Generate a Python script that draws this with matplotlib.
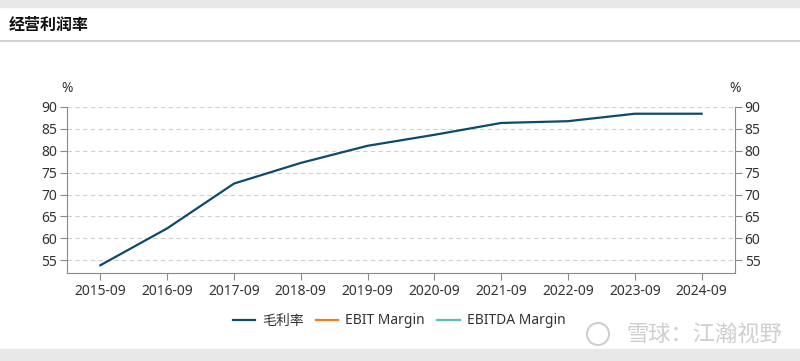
import matplotlib
matplotlib.use("Agg")
import matplotlib.pyplot as plt
from matplotlib.lines import Line2D
from matplotlib.patches import Rectangle, Ellipse

plt.rcParams['font.family'] = ['Noto Sans', 'Noto Sans CJK SC', 'DejaVu Sans']

# data
periods = ['2015-09', '2016-09', '2017-09', '2018-09', '2019-09',
           '2020-09', '2021-09', '2022-09', '2023-09', '2024-09']
gross_margin = [53.9, 62.3, 72.5, 77.2, 81.1, 83.6, 86.3, 86.7, 88.4, 88.4]
ebit_margin = []
ebitda_margin = []
y_ticks = [55, 60, 65, 70, 75, 80, 85, 90]

c_gross = '#0e4a6b'
c_ebit = '#ee7d1f'
c_ebitda = '#5cbdb6'
c_text = '#333333'
c_axis = '#8a8a8a'
fs = 10

fig = plt.figure(figsize=(8, 3.61), dpi=100)

# header / footer bands
fig.patches.append(Rectangle((0, 1 - 7/361), 1, 7/361, transform=fig.transFigure,
                             color='#e8e8e8', zorder=0))
fig.patches.append(Rectangle((0, 0), 1, 12/361, transform=fig.transFigure,
                             color='#e8e8e8', zorder=0))
fig.add_artist(Line2D([0, 1], [1 - 41/361, 1 - 41/361], transform=fig.transFigure,
                      color='#cccccc', lw=1.2))
fig.text(9/800, 1 - 25/361, '经营利润率', fontsize=11.5, fontweight='bold',
         color='#111111', va='center', ha='left', family='Noto Sans CJK SC')

ax = fig.add_axes([67/800, 1 - 272.7/361, (735 - 67)/800, (272.7 - 106.7)/361])
x = list(range(len(periods)))
ax.plot(x, gross_margin, color=c_gross, lw=1.6, label='毛利率')
ax.plot(ebit_margin, ebit_margin, color=c_ebit, lw=1.6, label='EBIT Margin')
ax.plot(ebitda_margin, ebitda_margin, color=c_ebitda, lw=1.6, label='EBITDA Margin')

ax.set_xlim(-0.5, len(periods) - 0.5)
ax.set_ylim(52.2, 90)
ax.set_xticks(x)
ax.set_xticklabels(periods)
ax.set_yticks(y_ticks)
ax.grid(axis='y', color='#d0d0d0', ls=(0, (4, 3)), lw=0.8)
ax.set_axisbelow(True)

for s in ['top', 'right']:
    ax.spines[s].set_visible(False)
for s in ['left', 'bottom']:
    ax.spines[s].set_color(c_axis)
ax.tick_params(axis='both', colors=c_axis, labelcolor=c_text, labelsize=fs,
               length=5, width=0.8, pad=2)
ax.tick_params(axis='x', pad=3)

ax2 = ax.twinx()
ax2.set_ylim(ax.get_ylim())
ax2.set_yticks(y_ticks)
for s in ['top', 'left', 'bottom']:
    ax2.spines[s].set_visible(False)
ax2.spines['right'].set_color(c_axis)
ax2.tick_params(axis='y', colors=c_axis, labelcolor=c_text, labelsize=fs,
                length=5, width=0.8, pad=2)

fig.text(67/800, 1 - 88/361, '%', fontsize=fs, color=c_text, ha='center', va='center')
fig.text(735/800, 1 - 88/361, '%', fontsize=fs, color=c_text, ha='center', va='center')

ax.legend(loc='center', bbox_to_anchor=(399/800, 1 - 321/361),
          bbox_transform=fig.transFigure, ncol=3, frameon=False,
          fontsize=fs, handlelength=1.6, handletextpad=0.5, columnspacing=0.9,
          labelcolor=c_text)

# watermark
fig.patches.append(Ellipse((598/800, 1 - 334/361), 22/800, 22/361,
                           transform=fig.transFigure,
                           fill=False, ec='#cfcfcf', lw=1.5))
fig.text(782/800, 1 - 334/361, '雪球：江瀚视野', fontsize=16, color='#cfcfcf',
         ha='right', va='center', family='Noto Sans CJK SC')

fig.savefig('out.png', dpi=100)
